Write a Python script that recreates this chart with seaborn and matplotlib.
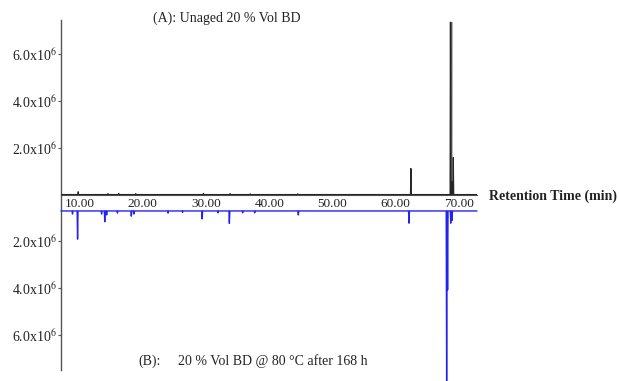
import matplotlib
matplotlib.use("Agg")
import matplotlib.pyplot as plt
import numpy as np
import pandas as pd
import seaborn as sns

# Chromatogram (A): unaged sample, peak retention times (min) and heights (x1e6 counts)
rt_a = [9.8, 14.5, 16.2, 18.9, 29.6, 33.8, 37.0, 44.5, 62.4, 68.7, 68.9, 69.1]
h_a = [0.12, 0.04, 0.05, 0.04, 0.05, 0.04, 0.03, 0.03, 1.11, 7.35, 0.55, 1.58]

# Chromatogram (B): aged sample, plotted downward from its own baseline
base_b = 0.70
rt_b = [8.9, 9.7, 13.5, 14.0, 14.3, 16.0, 18.2, 18.6, 24.0, 26.3, 29.4, 31.9,
        33.7, 35.8, 37.7, 44.6, 62.1, 68.05, 68.2, 68.7, 68.9]
h_b = [0.13, 1.20, 0.13, 0.46, 0.17, 0.09, 0.22, 0.13, 0.09, 0.06, 0.34, 0.08,
       0.53, 0.08, 0.08, 0.17, 0.52, 7.25, 3.37, 0.52, 0.40]

x_ticks = [10, 20, 30, 40, 50, 60, 70]
x_tick_labels = ["10.00", "20.00", "30.00", "40.00", "50.00", "60.00", "70.00"]
y_ticks = [2, 4, 6]
y_tick_labels = ["2.0x10$^6$", "4.0x10$^6$", "6.0x10$^6$"]

t_start, t_end = 7.08, 72.85
scale = 1e6


def stick_trace(rts, heights, base, sign, half_width=0.07):
    """Build a baseline trace with a narrow triangular spike per peak."""
    xs, ys = [t_start], [sign * base]
    for rt, h in sorted(zip(rts, heights)):
        xs += [rt - half_width, rt, rt + half_width]
        ys += [sign * base, sign * (base + h), sign * base]
    xs.append(t_end)
    ys.append(sign * base)
    return pd.DataFrame({"time": xs, "signal": np.array(ys) * scale})


sns.set_style("white")
plt.rcParams["font.family"] = ["Liberation Serif", "DejaVu Serif"]
plt.rcParams["mathtext.fontset"] = "stix"

fig = plt.figure(figsize=(6.19, 3.81), dpi=100)
ax = fig.add_axes([61 / 619, 1 - 370 / 381, (477 - 61) / 619, (370 - 20.5) / 381])

df_a = stick_trace(rt_a, h_a, 0.0, 1)
df_b = stick_trace(rt_b, h_b, base_b, -1)

# the main peak of (A) is rendered as a broad grey band with a dark core
main_a = int(np.argmax(h_a))
ax.vlines(rt_a[main_a], 0, h_a[main_a] * scale, color="#a8a8a8", lw=2.6, zorder=1)

sns.lineplot(data=df_a, x="time", y="signal", sort=False, estimator=None,
             color="#262626", lw=0.85, ax=ax, zorder=3)
sns.lineplot(data=df_b, x="time", y="signal", sort=False, estimator=None,
             color="#2323f0", lw=1.0, ax=ax, zorder=3)
ax.lines[-1].set_clip_on(False)

ax.set_xlim(t_start, t_end)
ax.set_ylim(-7.48 * scale, 7.42 * scale)

ax.spines["top"].set_visible(False)
ax.spines["right"].set_visible(False)
ax.spines["left"].set_color("#555555")
ax.spines["left"].set_linewidth(1.0)
ax.spines["bottom"].set_position(("data", 0))
ax.spines["bottom"].set_color("#555555")
ax.spines["bottom"].set_linewidth(0.8)

ax.set_xticks(x_ticks)
ax.set_xticklabels(x_tick_labels, fontsize=9.5, color="#222222")
ax.tick_params(axis="x", length=0, pad=2.5)

yt = [v * scale for v in y_ticks] + [-v * scale for v in y_ticks]
ax.set_yticks(yt)
ax.set_yticklabels(y_tick_labels + y_tick_labels, fontsize=10, color="#222222")
ax.tick_params(axis="y", length=2, width=0.8, pad=1, color="#555555", left=True)
ax.set_xlabel("")
ax.set_ylabel("")

fig.text(153 / 619, 1 - 18 / 381, "(A): Unaged 20 % Vol BD", fontsize=10,
         ha="left", va="center", color="#222222")
fig.text(489 / 619, 1 - 196 / 381, "Retention Time (min)", fontsize=10,
         fontweight="bold", ha="left", va="center", color="#222222")
fig.text(138 / 619, 1 - 361 / 381, "(B):", fontsize=10,
         ha="left", va="center", color="#222222")
fig.text(178 / 619, 1 - 361 / 381, "20 % Vol BD @ 80 °C after 168 h", fontsize=10,
         ha="left", va="center", color="#222222")

fig.savefig("out.png", dpi=100)
